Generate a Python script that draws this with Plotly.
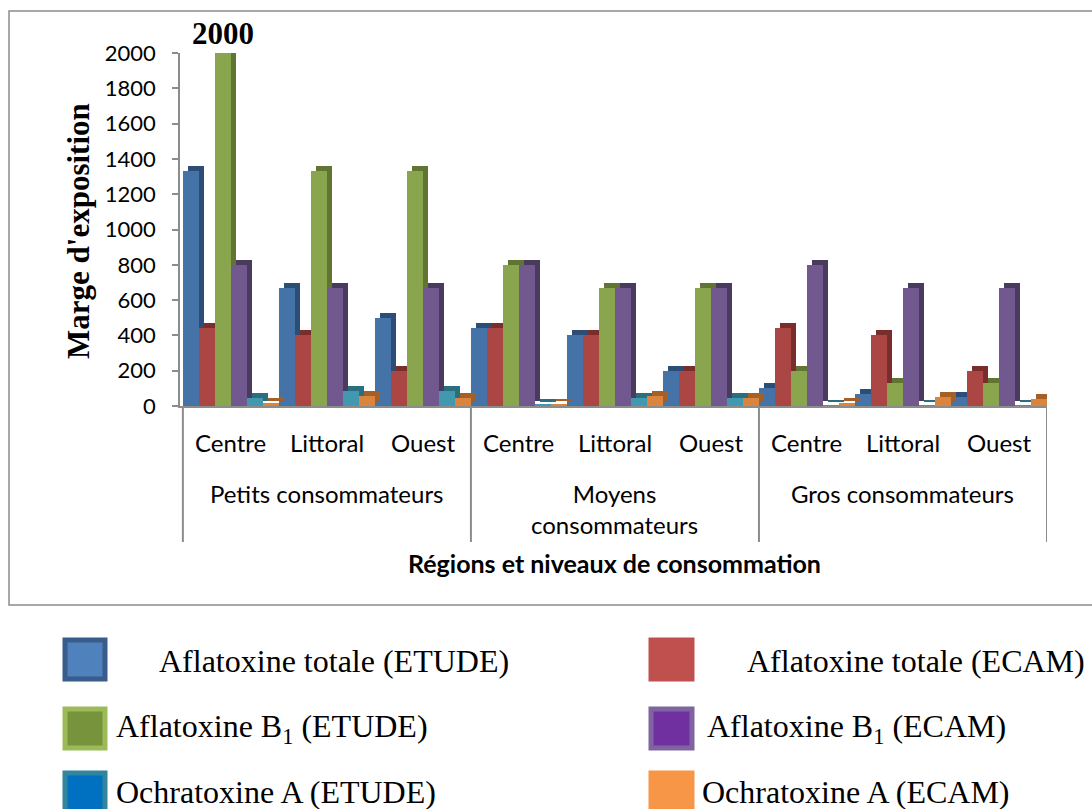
import plotly.graph_objects as go

# ---------------- data ----------------
regions = ["Centre", "Littoral", "Ouest"] * 3
groups = ["Petits consommateurs", "Moyens<br>consommateurs", "Gros consommateurs"]

series_names = [
    "Aflatoxine totale (ETUDE)", "Aflatoxine totale (ECAM)",
    "Aflatoxine B<sub>1</sub> (ETUDE)", "Aflatoxine B<sub>1</sub> (ECAM)",
    "Ochratoxine A (ETUDE)", "Ochratoxine A (ECAM)",
]
aflatoxine_totale_etude = [1333, 667, 500, 444, 400, 200, 100, 67, 50]
aflatoxine_totale_ecam = [444, 400, 200, 444, 400, 200, 444, 400, 200]
aflatoxine_b1_etude = [2000, 1333, 1333, 800, 667, 667, 200, 133, 133]
aflatoxine_b1_ecam = [800, 667, 667, 800, 667, 667, 800, 667, 667]
ochratoxine_a_etude = [45, 87, 87, 10, 45, 45, 5, 5, 5]
ochratoxine_a_ecam = [17, 55, 48, 12, 57, 47, 17, 53, 40]
y_ticks = [0, 200, 400, 600, 800, 1000, 1200, 1400, 1600, 1800, 2000]

series_values = [aflatoxine_totale_etude, aflatoxine_totale_ecam,
                 aflatoxine_b1_etude, aflatoxine_b1_ecam,
                 ochratoxine_a_etude, ochratoxine_a_ecam]

# ---------------- styles ----------------
front_colors = ["#4572A7", "#AA4643", "#89A54E", "#71588F", "#4198AF", "#DB843D"]
side_colors = ["#2C4D75", "#7A2E2C", "#5F7531", "#4A3A5E", "#2B6E80", "#A65F24"]
legend_fill = ["#4F81BD", "#C0504D", "#77933C", "#7030A0", "#0070C0", "#F79646"]
legend_line = ["#385D8A", "#C0504D", "#9BBB59", "#8064A2", "#31859C", "#F79646"]

W, H = 1092, 809
L, R, T, B = 180, 45, 53, 403
X_RANGE = [-0.53, 8.5]
plot_w = W - L - R
plot_h = H - T - B

def px_x(px):
    return (px - L) / plot_w

def px_y(py):
    return (H - B - py) / plot_h

x = list(range(len(regions)))
bw = 1 / 6
dx = 0.052
dy = 28

fig = go.Figure()
for i, vals in enumerate(series_values):
    off = -0.5 + i * bw
    # depth (side + top) of the pseudo-3D bar
    fig.add_trace(go.Bar(x=x, y=vals, base=[dy] * len(vals), offset=off + dx, width=bw,
                         marker=dict(color=side_colors[i], line=dict(width=0)),
                         showlegend=False, hoverinfo="skip", cliponaxis=False))
    # front face
    fig.add_trace(go.Bar(x=x, y=vals, offset=off, width=bw, name=series_names[i],
                         marker=dict(color=front_colors[i], line=dict(width=0)),
                         showlegend=False, cliponaxis=False))

sans = "Lato, Open Sans, sans-serif"
tick_font = dict(family=sans, size=22, color="#000000")
cat_font = dict(family=sans, size=24, color="#000000")
serif = "Liberation Serif, Times New Roman, serif"

fig.update_layout(
    width=W, height=H,
    margin=dict(l=L, r=R, t=T, b=B, autoexpand=False),
    paper_bgcolor="white", plot_bgcolor="white",
    barmode="overlay", bargap=0,
    showlegend=False,
    xaxis=dict(range=X_RANGE, showgrid=False, zeroline=False, showticklabels=False,
               showline=True, linecolor="#8C8C8C", linewidth=2, ticks=""),
    yaxis=dict(range=[0, 2000], tickvals=y_ticks, showgrid=False, zeroline=False,
               showline=True, linecolor="#8C8C8C", linewidth=1.5,
               ticks="outside", ticklen=6, tickcolor="#8C8C8C", tickwidth=1.5,
               ticklabelstandoff=12, tickfont=tick_font),
)

annotations = []
# region labels
for xi, r in zip(x, regions):
    annotations.append(dict(x=xi, y=0, xref="x", yref="y", text=r, showarrow=False,
                            yshift=-36, yanchor="middle", font=cat_font))
# group labels
for gi, g in enumerate(groups):
    annotations.append(dict(x=gi * 3 + 1, y=0, xref="x", yref="y", text=g, showarrow=False,
                            yshift=-71, yanchor="top", font=cat_font))
# axis title x
annotations.append(dict(x=4, y=0, xref="x", yref="y", text="<b>Régions et niveaux de consommation</b>",
                        showarrow=False, yshift=-157, yanchor="middle",
                        font=dict(family=sans, size=25, color="#000000")))
# axis title y
annotations.append(dict(x=px_x(78), y=px_y(231), xref="paper", yref="paper",
                        text="<b>Marge d'exposition</b>", textangle=-90, showarrow=False,
                        xanchor="center", yanchor="middle",
                        font=dict(family=serif, size=31, color="#000000")))
# data label on the highest bar
top_val = max(aflatoxine_b1_etude)
top_idx = aflatoxine_b1_etude.index(top_val)
annotations.append(dict(x=x[top_idx] - 0.5 + 2.5 * bw, y=top_val, xref="x", yref="y",
                        text="<b>%d</b>" % top_val, showarrow=False, yshift=20,
                        yanchor="middle", font=dict(family=serif, size=31, color="#000000")))

shapes = []
# category dividers
for xd in [-0.5, 2.5, 5.5, 8.5]:
    shapes.append(dict(type="line", xref="x", yref="paper", x0=xd, x1=xd,
                       y0=0, y1=px_y(542), line=dict(color="#8C8C8C", width=2)))
# chart border
shapes.append(dict(type="rect", xref="paper", yref="paper", x0=px_x(9), x1=px_x(1100),
                   y0=px_y(605), y1=px_y(11), line=dict(color="#8C8C8C", width=1.5),
                   fillcolor="rgba(0,0,0,0)", layer="below"))

# manual legend (2 columns x 3 rows)
sw_x = [(63, 107), (649, 694)]
sw_y = [(638, 681), (707, 750), (771, 814)]
text_x = [[157, 745], [114, 705], [114, 700]]
text_y = [661, 728, 792]
for k in range(6):
    row, col = k // 2, k % 2
    x0, x1 = sw_x[col]
    y0, y1 = sw_y[row]
    shapes.append(dict(type="rect", xref="paper", yref="paper",
                       x0=px_x(x0 + 2), x1=px_x(x1 - 2), y0=px_y(y1 - 2), y1=px_y(y0 + 2),
                       fillcolor=legend_fill[k], line=dict(color=legend_line[k], width=5)))
    annotations.append(dict(x=px_x(text_x[row][col]), y=px_y(text_y[row]), xref="paper", yref="paper",
                            text=series_names[k], showarrow=False, xanchor="left", yanchor="middle",
                            font=dict(family=serif, size=32, color="#000000")))

fig.update_layout(annotations=annotations, shapes=shapes)
fig.write_html("out.html", config={"displayModeBar": False},
               post_script="document.body.style.margin='0px';document.body.style.overflow='hidden';")
